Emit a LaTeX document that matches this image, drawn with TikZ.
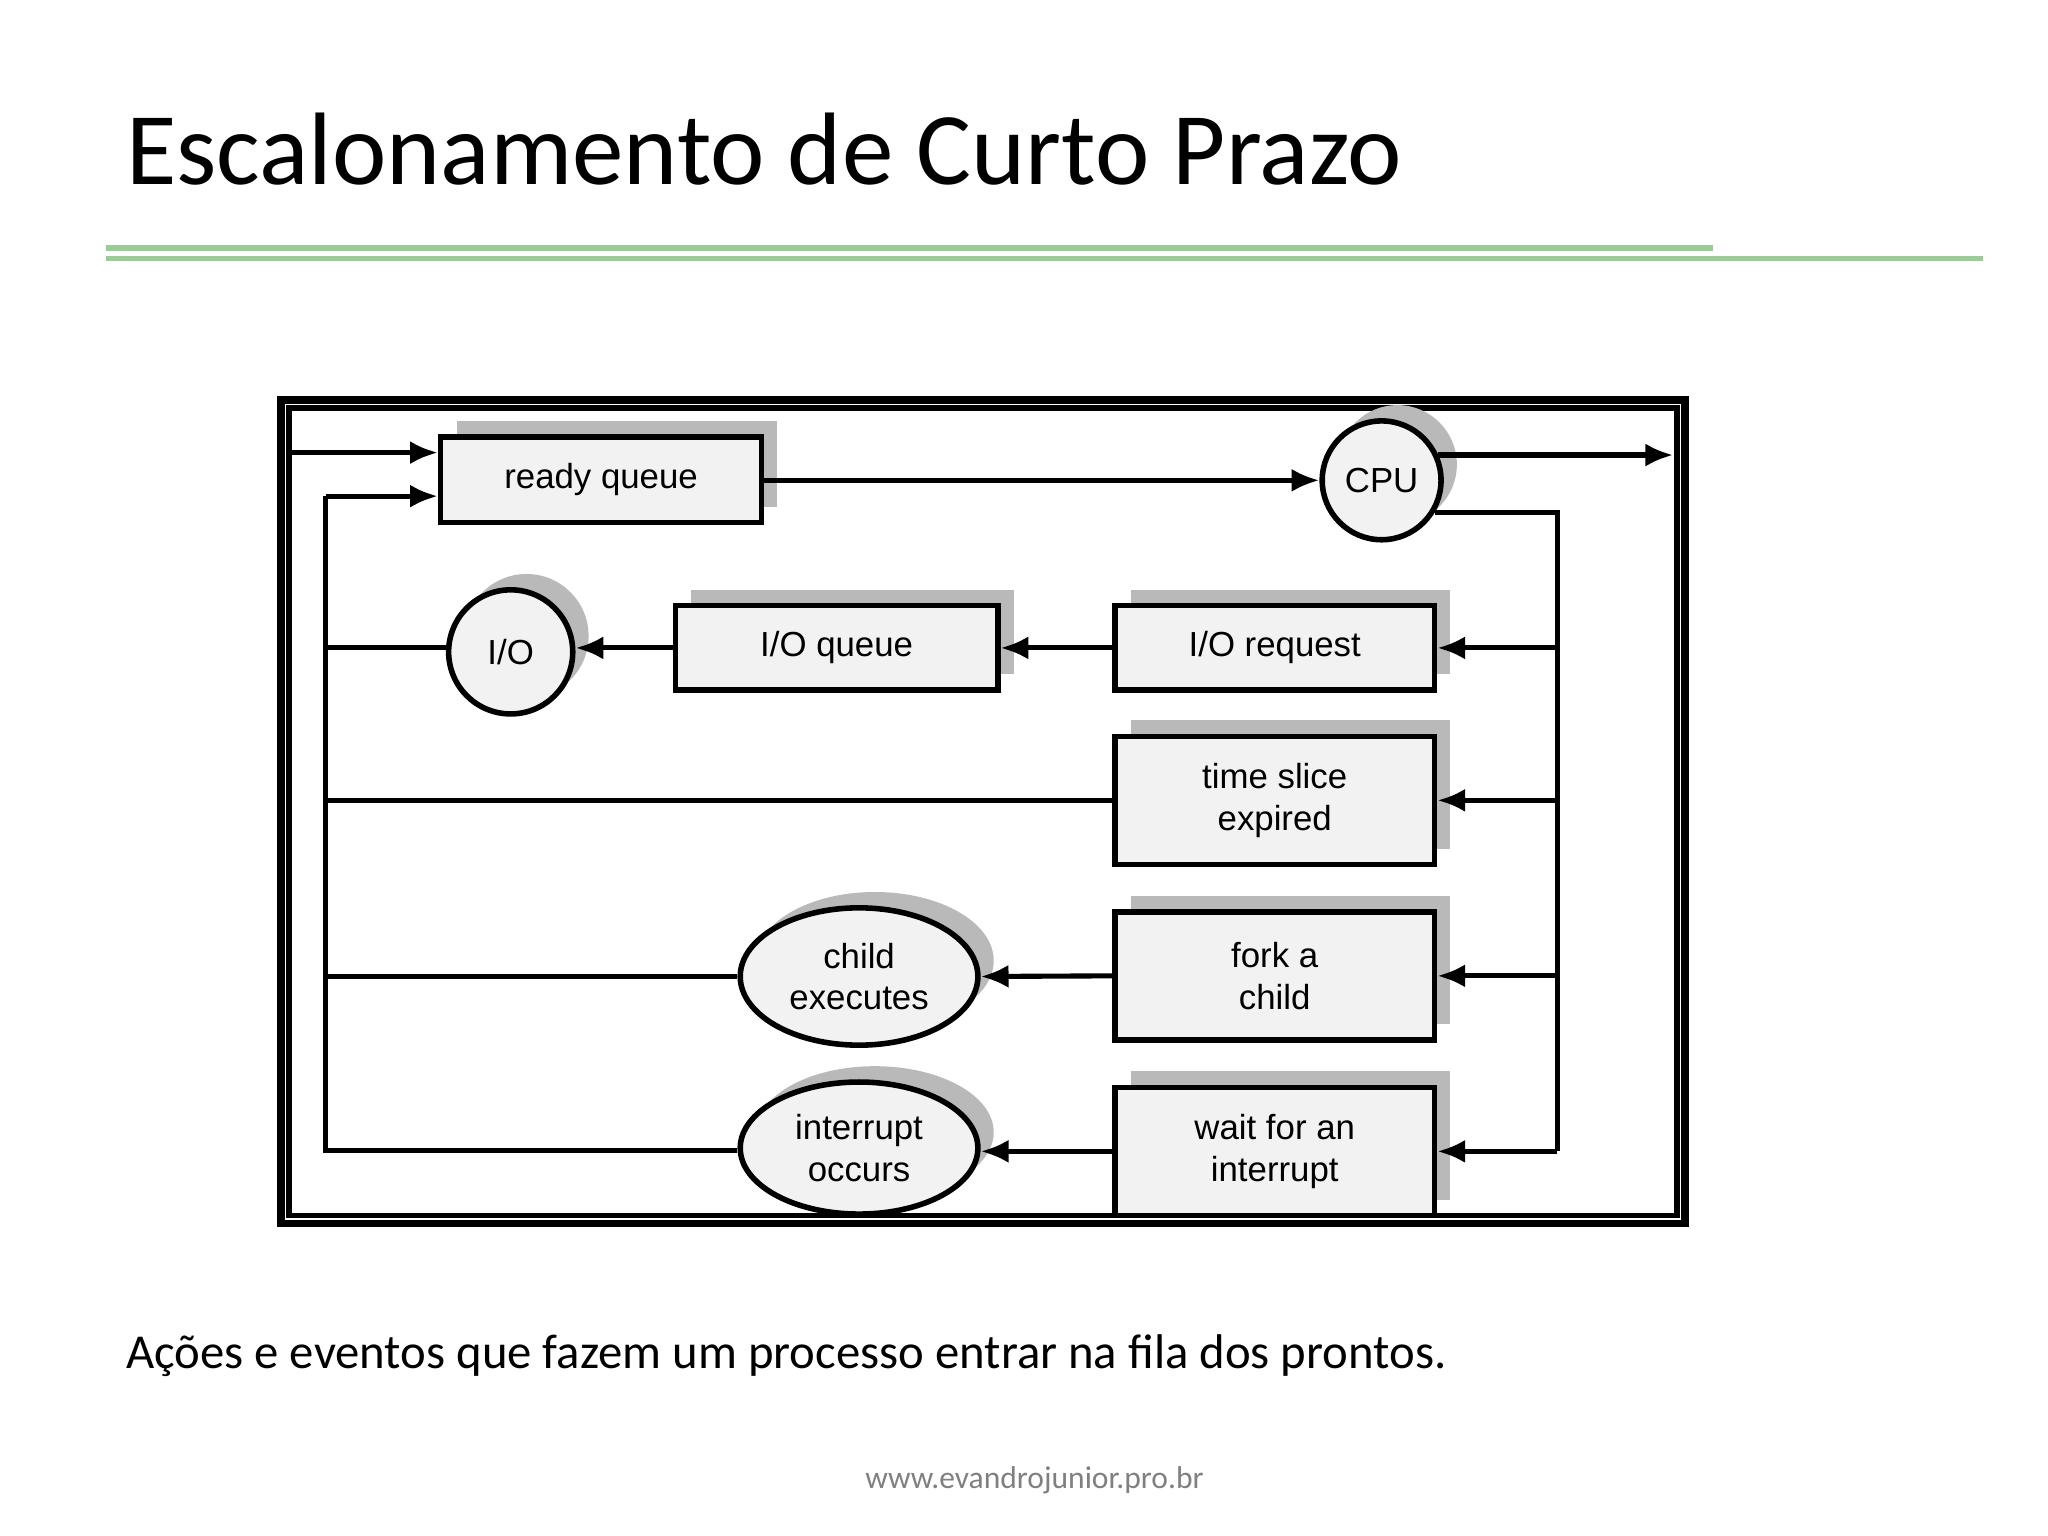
\documentclass[tikz,border=0pt]{standalone}
\usepackage{fontspec}
\setmainfont{Carlito}
\newfontfamily\arialf{Liberation Sans}
\usetikzlibrary{shadows,shapes.geometric,arrows.meta}
\begin{document}
\begin{tikzpicture}[x=0.01cm,y=-0.01cm,
  sh/.style={drop shadow={shadow xshift=0.12cm,shadow yshift=0.12cm,fill=gray!55,opacity=1}},
  box/.style={draw,line width=1.2pt,fill=gray!10,sh,font=\arialf\fontsize{7.5}{9}\selectfont,align=center,inner sep=0pt},
  circ/.style={box,circle},
  ell/.style={box,ellipse},
  ar/.style={line width=1.1pt,-{Latex[length=6pt,width=5pt]}},
  ln/.style={line width=1.1pt}]
\fill[white] (0,0) rectangle (1552,1164);
\node[anchor=base west,inner sep=0,font=\fontsize{22.2}{26}\selectfont] (title) at (95,140) {Escalonamento de Curto Prazo};
\draw[line width=1.4pt,color={rgb,255:red,155;green,203;blue,150}] (80,188) -- (1298,188);
\draw[line width=1.1pt,color={rgb,255:red,155;green,203;blue,150}] (80,196) -- (1503,196);
\draw[line width=1.6pt] (213,303) rectangle (1277,927);
\draw[line width=1.2pt] (219,309) rectangle (1271,921);
\node[box,minimum width=2.43cm,minimum height=0.65cm] (rq) at (455.5,363.5) {ready queue};
\node[circ,minimum size=0.9cm] (cpu) at (1047,364) {CPU};
\node[circ,minimum size=0.94cm] (io) at (387,494) {I/O};
\node[box,minimum width=2.44cm,minimum height=0.64cm] (ioq) at (634,491) {I/O queue};
\node[box,minimum width=2.42cm,minimum height=0.64cm] (ior) at (966,491) {I/O request};
\node[box,minimum width=2.42cm,minimum height=0.97cm] (ts) at (966,606.5) {time slice\\expired};
\node[box,minimum width=2.42cm,minimum height=0.97cm] (fk) at (966,739.5) {fork a\\child};
\node[box,minimum width=2.42cm,minimum height=0.97cm] (wt) at (966,872.5) {wait for an\\interrupt};
\node[ell,minimum width=1.8cm,minimum height=1.04cm] (ce) at (651,740) {child\\executes};
\node[ell,minimum width=1.8cm,minimum height=1.0cm] (ie) at (651,870) {interrupt\\occurs};
\coordinate (in) at (219,343);
\coordinate (out) at (1268,346);
\coordinate (bus) at (1180,387);
\coordinate (lb) at (247,872);
\draw[ar] (in) -- (in -| rq.west);
\draw[ar] (rq.east |- cpu.west) -- (cpu.west);
\draw[ar] (cpu.24) -- (cpu.24 -| out);
\draw[ln] (cpu.-31) -- (cpu.-31 -| bus) -- (bus |- wt.east);
\draw[ar] (bus |- ior.east) -- (ior.east);
\draw[ar] (bus |- ts.east) -- (ts.east);
\draw[ar] (bus |- fk.east) -- (fk.east);
\draw[ar] (bus |- wt.east) -- (wt.east);
\draw[ar] (ior.west) -- (ioq.east);
\draw[ar] (ioq.west) -- (io.east |- ioq.west);
\draw[ar] (fk.west) -- (ce.east);
\draw[ar] (wt.west) -- (ie.east |- wt.west);
\draw[ln] (ie.west |- lb) -- (lb) -- (lb |- 0,376);
\draw[ar] (lb |- 0,376) -- (rq.west |- 0,376);
\draw[ln] (io.west |- ioq.west) -- (lb |- ioq.west);
\draw[ln] (ts.west) -- (lb |- ts.west);
\draw[ln] (ce.west) -- (lb |- ce.west);
\node[anchor=base west,inner sep=0,font=\fontsize{10.5}{12}\selectfont] (cap) at (95,1037) {Ações e eventos que fazem um processo entrar na fila dos prontos.};
\node[inner sep=0,text=gray,font=\fontsize{6.8}{8}\selectfont] (url) at (784,1122) {www.evandrojunior.pro.br};
\end{tikzpicture}
\end{document}
